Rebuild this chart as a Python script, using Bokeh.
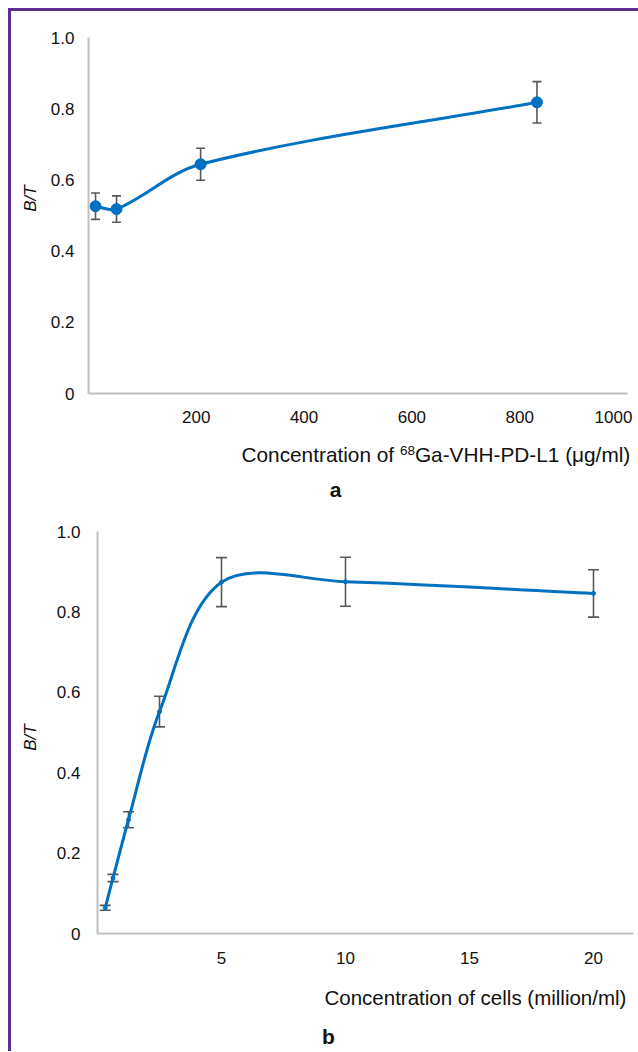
import math
from bokeh.plotting import figure
from bokeh.models import ColumnDataSource, Whisker, TeeHead, Label, FixedTicker, Range1d
from bokeh.layouts import column, row
from bokeh.embed import file_html
from bokeh.resources import INLINE

# ---------------- data ----------------
a_conc = [13, 52, 208, 832]              # µg/ml
a_bt = [0.526, 0.518, 0.644, 0.818]
a_err = [0.037, 0.037, 0.045, 0.058]
a_xticks = [200, 400, 600, 800, 1000]
a_xtick_labels = ["200", "400", "600", "800", "1000"]

b_conc = [0.3125, 0.625, 1.25, 2.5, 5, 10, 20]   # million cells/ml
b_bt = [0.064, 0.138, 0.283, 0.552, 0.874, 0.875, 0.846]
b_err = [0.006, 0.009, 0.020, 0.038, 0.061, 0.061, 0.059]
b_xticks = [5, 10, 15, 20]
b_xtick_labels = ["5", "10", "15", "20"]

y_ticks = [0, 0.2, 0.4, 0.6, 0.8, 1.0]
y_tick_labels = ["0", "0.2", "0.4", "0.6", "0.8", "1.0"]

a_xlabel = ["Concentration of", "68", "Ga-VHH-PD-L1 (μg/ml)"]
b_xlabel = "Concentration of cells (million/ml)"
y_label = "B/T"
panel_letters = ["a", "b"]

# ---------------- style ----------------
FONT = "Liberation Sans"
BLUE = "#0070c0"
ERR = "#595959"
AXIS = "#bfbfbf"
TXT = "#111111"
PURPLE = "#5b2e91"
SIDE_W = 35
CHART_W = 592
FULL_W = SIDE_W + CHART_W


def smooth_segments(xs, ys, kx, ky, s=1.0 / 3.0):
    """Bezier control points of an Excel-like smoothed line (computed in pixel space)."""
    P = [(x * kx, y * ky) for x, y in zip(xs, ys)]
    n = len(P)
    d = lambda a, b: math.hypot(b[0] - a[0], b[1] - a[1])
    out = {k: [] for k in ("x0", "y0", "x1", "y1", "cx0", "cy0", "cx1", "cy1")}
    for i in range(n - 1):
        p0 = P[i - 1] if i > 0 else P[i]
        p1, p2 = P[i], P[i + 1]
        p3 = P[i + 2] if i + 2 < n else P[i + 1]
        d01, d12, d23 = d(p0, p1), d(p1, p2), d(p2, p3)
        f1 = s * d12 / (d01 + d12)
        f2 = s * d12 / (d12 + d23)
        c1 = (p1[0] + (p2[0] - p0[0]) * f1, p1[1] + (p2[1] - p0[1]) * f1)
        c2 = (p2[0] - (p3[0] - p1[0]) * f2, p2[1] - (p3[1] - p1[1]) * f2)
        out["x0"].append(p1[0] / kx); out["y0"].append(p1[1] / ky)
        out["x1"].append(p2[0] / kx); out["y1"].append(p2[1] / ky)
        out["cx0"].append(c1[0] / kx); out["cy0"].append(c1[1] / ky)
        out["cx1"].append(c2[0] / kx); out["cy1"].append(c2[1] / ky)
    return out


def make_chart(h, xmax, left, right, top, bottom, tick_pos, tick_labels, ystand, xstand):
    p = figure(width=CHART_W, height=h, x_range=Range1d(0, xmax), y_range=Range1d(0, 1),
               output_backend="svg", toolbar_location=None, title=None,
               min_border_left=left, min_border_right=right,
               min_border_top=top, min_border_bottom=bottom)
    p.frame_align = False
    p.outline_line_color = None
    p.xgrid.visible = False
    p.ygrid.visible = False
    for ax in (p.xaxis[0], p.yaxis[0]):
        ax.axis_line_color = AXIS
        ax.axis_line_width = 2
        ax.major_tick_line_color = None
        ax.minor_tick_line_color = None
        ax.major_tick_out = 0
        ax.major_tick_in = 0
        ax.minor_tick_out = 0
        ax.minor_tick_in = 0
        ax.major_label_text_font = FONT
        ax.major_label_text_font_size = "17px"
        ax.major_label_text_color = TXT
    p.yaxis[0].ticker = FixedTicker(ticks=y_ticks)
    p.yaxis[0].major_label_overrides = dict(zip(y_ticks, y_tick_labels))
    p.yaxis[0].major_label_standoff = ystand
    p.xaxis[0].ticker = FixedTicker(ticks=tick_pos)
    p.xaxis[0].major_label_overrides = dict(zip(tick_pos, tick_labels))
    p.xaxis[0].major_label_standoff = xstand
    return p


def blank(w, h):
    p = figure(width=w, height=h, x_range=Range1d(0, w), y_range=Range1d(0, h),
               x_axis_location=None, y_axis_location=None, min_border=0,
               min_border_left=0, min_border_right=0, min_border_top=0,
               min_border_bottom=0, output_backend="svg", toolbar_location=None,
               title=None)
    p.frame_align = False
    p.outline_line_color = None
    p.xgrid.visible = False
    p.ygrid.visible = False
    return p


def add_series(p, xs, ys, errs, kx, ky, marker_size, cap):
    src = ColumnDataSource(dict(x=xs, y=ys,
                                upper=[y + e for y, e in zip(ys, errs)],
                                lower=[y - e for y, e in zip(ys, errs)]))
    w = Whisker(source=src, base="x", upper="upper", lower="lower",
                line_color=ERR, line_width=1.6, level="underlay",
                upper_head=TeeHead(size=cap, line_color=ERR, line_width=1.6),
                lower_head=TeeHead(size=cap, line_color=ERR, line_width=1.6))
    p.add_layout(w)
    seg = ColumnDataSource(smooth_segments(xs, ys, kx, ky))
    p.bezier(x0="x0", y0="y0", x1="x1", y1="y1", cx0="cx0", cy0="cy0",
             cx1="cx1", cy1="cy1", source=seg, line_color=BLUE, line_width=3,
             line_cap="round")
    p.scatter("x", "y", source=src, size=marker_size, fill_color=BLUE, line_color=BLUE)


def put(p, left, bottom, px, py, text, size, align="left", angle=0.0, style="normal"):
    """Place a text centred vertically at page pixel row py, at page column px, on a
    blank figure whose canvas starts at page column `left` and ends at page row `bottom`."""
    p.add_layout(Label(x=px - left, y=bottom - py, text=text, text_font=FONT,
                       text_font_size=size, text_color=TXT, text_align=align,
                       text_baseline="middle", angle=angle, text_font_style=style))


X0, Y0 = 11, 11     # page origin of the content (8px margin + 3px frame line)

# ---------------- chart a ----------------
A_H = 421                       # page rows 11..432
A_L, A_R, A_T, A_B = 42, 11, 26, 39
A_KX = (CHART_W - A_L - A_R) / 1000.0
A_KY = float(A_H - A_T - A_B)
# Excel pulls the last category label ("1000") inwards so it stays inside the chart
a_tick_pos = a_xticks[:-1] + [a_xticks[-1] - 14 / A_KX]
pa = make_chart(A_H, 1000, A_L, A_R, A_T, A_B, a_tick_pos, a_xtick_labels, 14, 17)
add_series(pa, a_conc, a_bt, a_err, A_KX, A_KY, 11, 9)

sa = blank(SIDE_W, A_H)
put(sa, X0, Y0 + A_H, 30, 198, y_label, "17px", "center", math.pi / 2, "italic")

CA_H = 78                       # page rows 432..510
ca = blank(FULL_W, CA_H)
cab = Y0 + A_H + CA_H
put(ca, X0, cab, 393.6, 454.0, a_xlabel[0], "20.8px", "right")
put(ca, X0, cab, 399.4, 449.5, a_xlabel[1], "13.5px", "left")
put(ca, X0, cab, 414.4, 454.0, a_xlabel[2], "20.8px", "left")
put(ca, X0, cab, 335, 489.0, panel_letters[0], "21px", "center", style="bold")

# ---------------- chart b ----------------
B_H = 465                       # page rows 510..975
B_L, B_R, B_T, B_B = 51, 5, 21, 42
B_KX = 24.8
B_XMAX = (CHART_W - B_L - B_R) / B_KX
B_KY = float(B_H - B_T - B_B)
pb = make_chart(B_H, B_XMAX, B_L, B_R, B_T, B_B, b_xticks, b_xtick_labels, 17, 18)
add_series(pb, b_conc, b_bt, b_err, B_KX, B_KY, 4, 11)

top_b = Y0 + A_H + CA_H
sb = blank(SIDE_W, B_H)
put(sb, X0, top_b + B_H, 30, 737, y_label, "17px", "center", math.pi / 2, "italic")

CB_H = 76                       # page rows 975..1051
cb = blank(FULL_W, CB_H)
cbb = top_b + B_H + CB_H
put(cb, X0, cbb, 324, 997.0, b_xlabel, "20.5px", "left")
put(cb, X0, cbb, 328, 1035.5, panel_letters[1], "21px", "center", style="bold")

layout = column(row(sa, pa), ca, row(sb, pb), cb,
                styles={"border-top": f"3px solid {PURPLE}",
                        "border-left": f"3px solid {PURPLE}",
                        "margin-left": "8px", "margin-top": "8px"})

open("out.html", "w").write(file_html(layout, INLINE))
